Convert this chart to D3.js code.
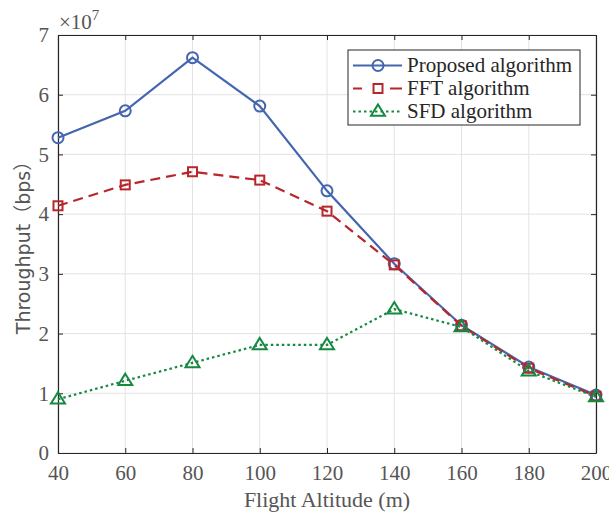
<!DOCTYPE html>
<html><head><meta charset="utf-8">
<script src="https://cdn.jsdelivr.net/npm/d3@7"></script>
<style>body{margin:0;background:#fff} .serif{font-family:"Liberation Serif","Times New Roman",serif}</style>
</head><body><svg id="c" width="609" height="517"></svg>
<script>
const altitudes = [40, 60, 80, 100, 120, 140, 160, 180, 200];
const proposed = [5.28, 5.73, 6.62, 5.81, 4.39, 3.17, 2.14, 1.44, 0.97];
const fft = [4.14, 4.49, 4.71, 4.57, 4.05, 3.15, 2.13, 1.42, 0.95];
const sfd = [0.90, 1.21, 1.51, 1.81, 1.81, 2.41, 2.11, 1.37, 0.94];
const xTicks = [40, 60, 80, 100, 120, 140, 160, 180, 200];
const yTicks = [0, 1, 2, 3, 4, 5, 6, 7];
const seriesNames = ["Proposed algorithm", "FFT algorithm", "SFD algorithm"];

const svg = d3.select("#c");
const L = 58, R = 596, T = 35, B = 453;
const x = d3.scaleLinear().domain([40, 200]).range([L, R]);
const y = d3.scaleLinear().domain([0, 7]).range([B, T]);
const tickColor = "#555555";

// grid
const g = svg.append("g");
g.selectAll(".gx").data(xTicks).enter().append("line")
  .attr("x1", d => x(d)).attr("x2", d => x(d)).attr("y1", T).attr("y2", B)
  .attr("stroke", "#e3e3e3").attr("stroke-width", 1);
g.selectAll(".gy").data(yTicks).enter().append("line")
  .attr("y1", d => y(d)).attr("y2", d => y(d)).attr("x1", L).attr("x2", R)
  .attr("stroke", "#e3e3e3").attr("stroke-width", 1);

// axes
const fmt = d3.format("d");
const xAxis = svg.append("g").attr("transform", `translate(0,${B})`)
  .call(d3.axisBottom(x).tickValues(xTicks).tickFormat(fmt).tickSizeInner(-5).tickSizeOuter(0).tickPadding(12));
const xTop = svg.append("g").attr("transform", `translate(0,${T})`)
  .call(d3.axisTop(x).tickValues(xTicks).tickSizeInner(-5).tickSizeOuter(0).tickFormat(""));
const yAxis = svg.append("g").attr("transform", `translate(${L},0)`)
  .call(d3.axisLeft(y).tickValues(yTicks).tickFormat(fmt).tickSizeInner(-5).tickSizeOuter(0).tickPadding(9));
const yRight = svg.append("g").attr("transform", `translate(${R},0)`)
  .call(d3.axisRight(y).tickValues(yTicks).tickSizeInner(-5).tickSizeOuter(0).tickFormat(""));
[xAxis, xTop, yAxis, yRight].forEach(a => {
  a.attr("font-family", null).attr("font-size", 21).classed("serif", true);
  a.select(".domain").attr("stroke", "#262626").attr("stroke-width", 1.2);
  a.selectAll(".tick line").attr("stroke", "#262626").attr("stroke-width", 1);
  a.selectAll("text").attr("fill", tickColor);
});

// exponent
const ex = svg.append("text").attr("class", "serif").attr("x", L + 1).attr("y", 29)
  .attr("font-size", 21).attr("fill", tickColor);
ex.append("tspan").text("×10");
ex.append("tspan").attr("font-size", 15).attr("dy", -9).text("7");

// labels
svg.append("text").attr("class", "serif").attr("x", (L + R) / 2).attr("y", 507).attr("text-anchor", "middle")
  .attr("font-size", 22).attr("fill", tickColor).text("Flight Altitude (m)");
svg.append("text").attr("transform", `translate(30,${(T + B) / 2 - 1}) rotate(-90)`).attr("text-anchor", "middle")
  .style("font-family", "'DejaVu Sans', 'Noto Sans CJK SC', sans-serif").attr("font-size", 19).attr("fill", tickColor)
  .text("Throughput（bps）");

const cols = ["#4466b0", "#b8262c", "#14893f"];
const data = [proposed, fft, sfd];
const dashes = [null, "10,6", "2.5,3"];

data.forEach((vals, i) => {
  const pts = altitudes.map((a, j) => [a, vals[j]]);
  svg.append("path").datum(pts)
    .attr("d", d3.line().x(d => x(d[0])).y(d => y(d[1])))
    .attr("fill", "none").attr("stroke", cols[i]).attr("stroke-width", 2.2)
    .attr("stroke-dasharray", dashes[i]);
});

function marker(sel, i, cx, cy) {
  if (i === 0) {
    sel.append("circle").attr("cx", cx).attr("cy", cy).attr("r", 5.5)
      .attr("fill", "none").attr("stroke", cols[0]).attr("stroke-width", 2);
  } else if (i === 1) {
    sel.append("rect").attr("x", cx - 4.5).attr("y", cy - 4.5).attr("width", 9).attr("height", 9)
      .attr("fill", "none").attr("stroke", cols[1]).attr("stroke-width", 2);
  } else {
    const s = 7;
    sel.append("path").attr("d", `M${cx},${cy - s}L${cx + s},${cy + s * 0.62}L${cx - s},${cy + s * 0.62}Z`)
      .attr("fill", "none").attr("stroke", cols[2]).attr("stroke-width", 2);
  }
}
data.forEach((vals, i) => {
  const mg = svg.append("g");
  altitudes.forEach((a, j) => marker(mg, i, x(a), y(vals[j])));
});

// legend
const lg = svg.append("g");
lg.append("rect").attr("x", 348).attr("y", 50).attr("width", 232).attr("height", 75)
  .attr("fill", "#fff").attr("stroke", "#262626").attr("stroke-width", 1);
seriesNames.forEach((n, i) => {
  const cy = 65.5 + i * 23;
  lg.append("line").attr("x1", 353).attr("x2", 402).attr("y1", cy).attr("y2", cy)
    .attr("stroke", cols[i]).attr("stroke-width", 2.2)
    .attr("stroke-dasharray", i === 1 ? "9,28,12,100" : dashes[i]);
  marker(lg, i, 378, cy);
  lg.append("text").attr("class", "serif").attr("x", 407).attr("y", cy + 6.5).attr("font-size", 21)
    .attr("fill", "#262626").text(n);
});
</script></body></html>
